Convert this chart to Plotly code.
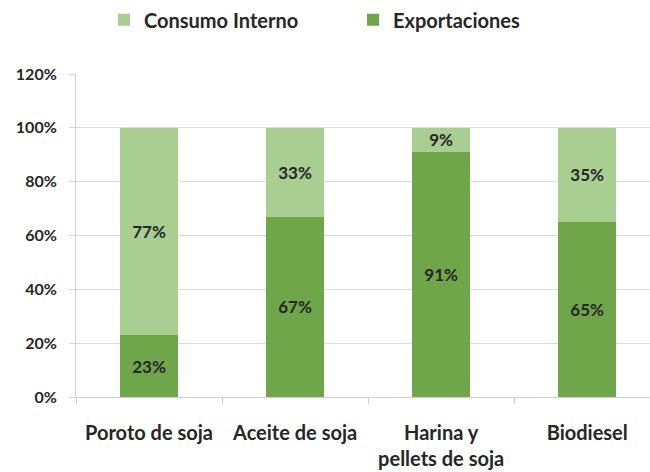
import plotly.graph_objects as go

categories = ["Poroto de soja", "Aceite de soja", "Harina y<br>pellets de soja", "Biodiesel"]
exportaciones = [23, 67, 91, 65]
consumo_interno = [77, 33, 9, 35]
y_ticks = [0, 20, 40, 60, 80, 100, 120]
y_tick_labels = ["0%", "20%", "40%", "60%", "80%", "100%", "120%"]

font_family = "Lato, 'Open Sans', sans-serif"
txt = "#262626"

fig = go.Figure()
fig.add_trace(go.Bar(
    x=categories, y=exportaciones, name="Exportaciones",
    marker=dict(color="#6FA64A", line=dict(width=0)),
    texttemplate="%{y}%", textposition="inside", insidetextanchor="middle",
    textfont=dict(family=font_family, size=17, color=txt, weight=700),
))
fig.add_trace(go.Bar(
    x=categories, y=consumo_interno, name="Consumo Interno",
    marker=dict(color="#A9CE92", line=dict(width=0)),
    texttemplate="%{y}%", textposition="inside", insidetextanchor="middle",
    textfont=dict(family=font_family, size=17, color=txt, weight=700),
))

fig.update_layout(
    barmode="stack", bargap=0.6,
    width=650, height=472,
    margin=dict(l=76, r=0, t=74, b=75, autoexpand=False),
    paper_bgcolor="white", plot_bgcolor="white",
    font=dict(family=font_family, size=15, color=txt),
    uniformtext=dict(mode="show", minsize=17),
    legend=dict(orientation="h", xref="container", x=104 / 650, xanchor="left",
                yref="container", y=0.958, yanchor="middle",
                traceorder="reversed",
                font=dict(family=font_family, size=20, color=txt, weight=700),
                itemwidth=30, entrywidth=204, entrywidthmode="pixels"),
    xaxis=dict(
        type="category", range=[-0.5, 3.43], tickson="boundaries",
        ticks="outside", ticklen=6, tickcolor="#d0d0d0",
        showline=True, linecolor="#d0d0d0", linewidth=1,
        tickfont=dict(family=font_family, size=20, color=txt, weight=700),
        ticklabelstandoff=18,
        showgrid=False, automargin=False,
    ),
    yaxis=dict(
        range=[0, 120], tickvals=y_ticks, ticktext=y_tick_labels,
        showgrid=True, gridcolor="#d9d9d9", gridwidth=1,
        ticks="outside", ticklen=6, tickcolor="#d9d9d9",
        showline=True, linecolor="#d0d0d0", linewidth=1,
        tickfont=dict(family=font_family, size=16, color=txt, weight=700),
        ticklabelstandoff=9,
        zeroline=False, automargin=False,
    ),
)

fig.write_html("out.html", config={"displayModeBar": False},
               post_script="document.body.style.margin='0';document.body.style.padding='0';")
